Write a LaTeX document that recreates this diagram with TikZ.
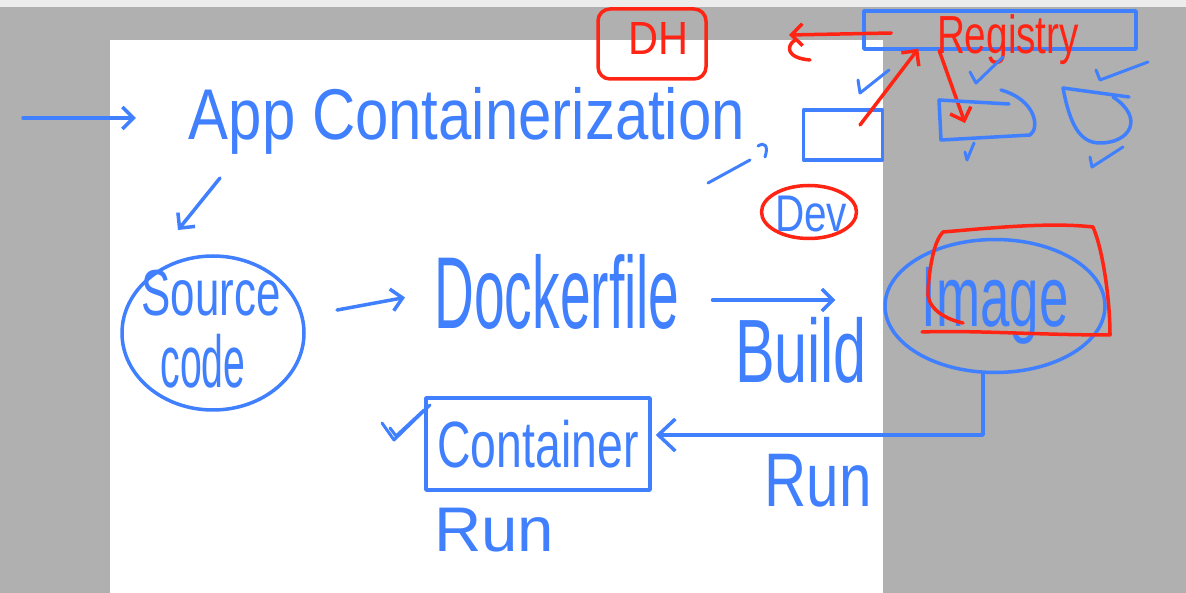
\documentclass[tikz,border=0pt]{standalone}
\usepackage{fontspec}
\setmainfont{Liberation Sans}
\usetikzlibrary{arrows.meta,shapes.geometric}
\definecolor{pen}{RGB}{64,128,255}
\definecolor{ink}{RGB}{255,36,20}
\definecolor{bg}{RGB}{176,176,176}
\definecolor{strip}{RGB}{236,236,236}
\newcommand{\fitbox}[3]{\resizebox*{#1}{#2}{#3}}
\begin{document}
\begin{tikzpicture}[x=1pt,y=-1pt,line cap=round,line join=round,
  bluepen/.style={draw=pen,line width=3.5pt},
  redpen/.style={draw=ink,line width=3.5pt},
  tickpen/.style={draw=pen,line width=3pt},
  lbl/.style={inner sep=0pt,outer sep=0pt,text=pen},
  rlbl/.style={inner sep=0pt,outer sep=0pt,text=ink},
  tip/.style={-{Straight Barb[length=11pt,width=22pt]}},
  bigtip/.style={-{Straight Barb[length=17pt,width=32pt]}}]
\useasboundingbox (0,0) rectangle (1186,593);
\fill[bg] (0,0) rectangle (1186,593);
\fill[strip] (0,0) rectangle (1186,7);
\fill[white] (110,40) rectangle (883,593);

% title
\node[lbl] (app) at (467,121) {\fitbox{556pt}{67pt}{App Containerization}};
\coordinate (in) at (23,118);
\draw[bluepen,tip,shorten >=53pt] (in) -- (app.west |- in);

% source code
\node[bluepen,ellipse,minimum width=182pt,minimum height=154pt,inner sep=0pt] (src) at (213,333) {};
\node[lbl] (src1) at (211,293) {\fitbox{139pt}{46pt}{Source}};
\node[lbl] (src2) at (203,361) {\fitbox{85pt}{54pt}{code}};
\coordinate (c1) at (220,178);
\coordinate (c2) at (178,230);
\draw[bluepen,tip] (c1) -- (c2);

% dockerfile
\node[lbl] (docker) at (557,292) {\fitbox{245pt}{75pt}{Dockerfile}};
\draw[bluepen,tip,shorten <=34pt,shorten >=30pt] (src) -- (docker.west);

% image
\node[bluepen,ellipse,minimum width=220pt,minimum height=133pt,inner sep=0pt,text=pen] (img) at (995,306) {\fitbox{147pt}{77pt}{Image}};
\draw[redpen] (963,323) .. controls (940,318) and (926,305) .. (928,290)
  .. controls (930,262) and (935,240) .. (943,232)
  .. controls (990,228) and (1050,222) .. (1093,227)
  .. controls (1103,250) and (1110,300) .. (1110,335)
  .. controls (1040,335) and (970,330) .. (922,332);
\draw[bluepen,tip,shorten <=33pt,shorten >=48pt] ([yshift=-8pt]docker.east) -- ([yshift=6pt]img.west);
\node[lbl] (build) at (801,350) {\fitbox{132pt}{66pt}{Build}};

% container
\node[bluepen,minimum width=224pt,minimum height=92pt,inner sep=0pt,text=pen] (cont) at (538,444) {\fitbox{201pt}{48pt}{Container}};
\draw[bluepen,bigtip,shorten >=4pt] ([xshift=-12pt]img.south) |- ([yshift=9pt]cont.east);
\node[lbl] (run1) at (818,481) {\fitbox{107pt}{53pt}{Run}};
\node[lbl] (run2) at (494,530) {\fitbox{120pt}{44pt}{Run}};
\draw[tickpen] (382,423) -- (394,440) -- (430,405);
\draw[tickpen] (390,428) -- (396,436) -- (424,410);

% dev
\node[bluepen,minimum width=79pt,minimum height=50pt,inner sep=0pt] (devbox) at (843,135) {};
\draw[tickpen] (708,183) -- (750,160);
\draw[tickpen] (758,146) .. controls (764,142) and (769,145) .. (765,157);
\node[lbl] (dev) at (811,214) {\fitbox{72pt}{36pt}{Dev}};
\node[redpen,ellipse,minimum width=95pt,minimum height=53pt,inner sep=0pt] (devring) at (809,212) {};

% DH
\node[redpen,rounded corners=12pt,minimum width=108pt,minimum height=70pt,inner sep=0pt] (dh) at (652,44) {};
\node[rlbl] (dhtxt) at (658,39) {\fitbox{60pt}{32pt}{DH}};

% registry
\node[bluepen,minimum width=272pt,minimum height=38pt,inner sep=0pt] (reg) at (1000,30) {};
\node[rlbl] (regtxt) at (1008,40) {\fitbox{142pt}{50pt}{Registry}};
\coordinate (dhend) at (789,35);
\draw[redpen,tip] ([xshift=29pt,yshift=-3pt]reg.west) -- (dhend);
\draw[redpen] (795,40) .. controls (786,46) and (786,58) .. (810,60);
\draw[redpen,tip] ([xshift=17pt,yshift=10pt]devbox.center) -- ([xshift=56pt,yshift=2pt]reg.south west);
\coordinate (b1) at (965,123);
\draw[redpen,tip] ([xshift=77pt]reg.south west) -- (b1);

% registry targets
\draw[bluepen] (939,100) -- (1009,104);
\draw[bluepen] (939,100) -- (941,140) -- (1030,135)
  .. controls (1040,128) and (1036,100) .. (1001,90);
\draw[bluepen] (1063,88) -- (1129,97);
\draw[bluepen] (1063,88) .. controls (1070,125) and (1080,143) .. (1100,143)
  .. controls (1130,143) and (1145,118) .. (1113,97);

% ticks
\draw[tickpen] (858,80) -- (860,93) -- (889,70);
\draw[tickpen] (970,72) -- (976,83) -- (1003,57);
\draw[tickpen] (1096,70) -- (1100,80) -- (1148,62);
\draw[tickpen] (965,152) -- (967,160) -- (974,143);
\draw[tickpen] (1090,157) -- (1092,167) -- (1123,147);
\end{tikzpicture}
\end{document}
